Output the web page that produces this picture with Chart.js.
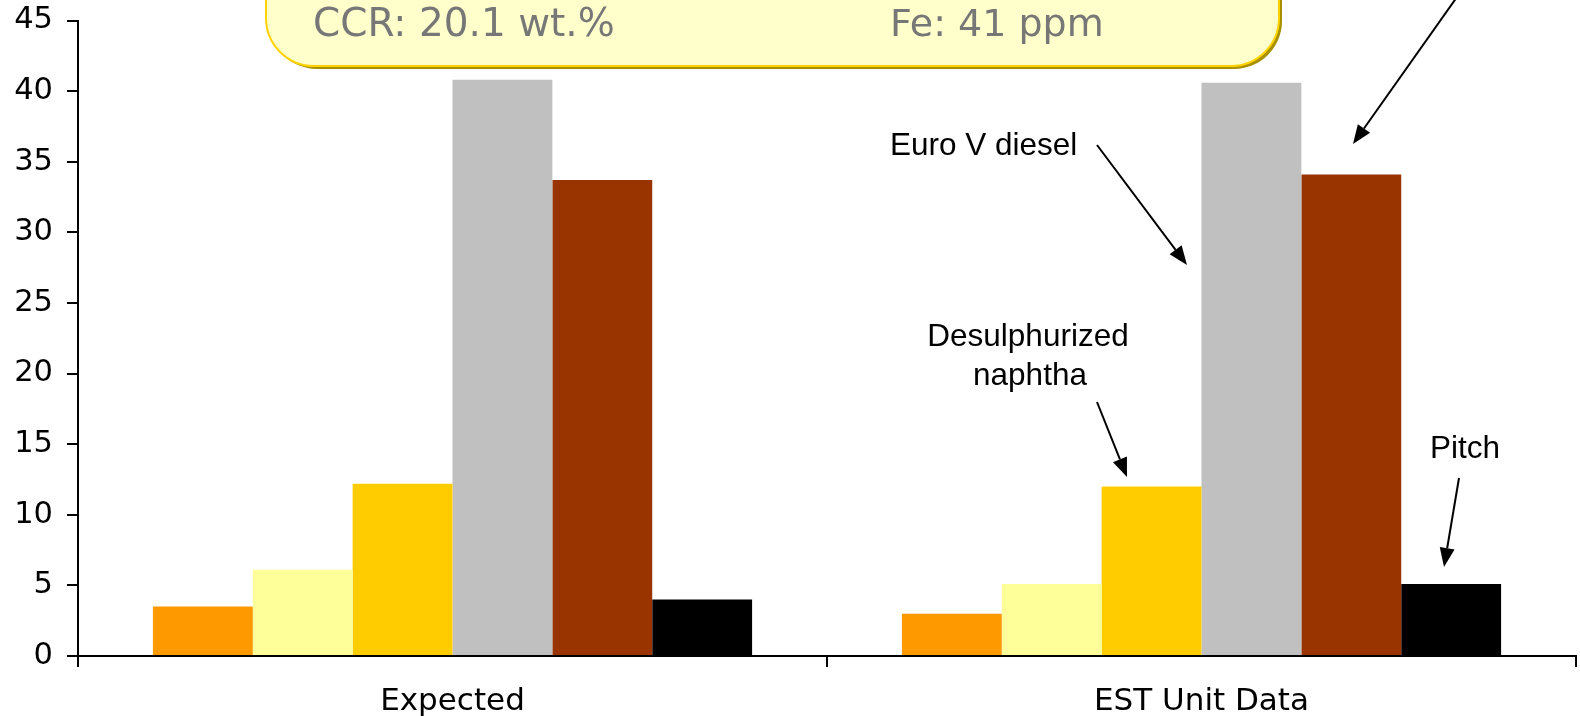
<!DOCTYPE html>
<html lang="en">
<head>
    <meta charset="UTF-8">
    <title>Product yields: Expected vs EST Unit Data</title>
    <script src="https://cdn.jsdelivr.net/npm/chart.js"></script>
    <style>
        html, body { margin: 0; padding: 0; background: #fff; }
        #wrap { width: 1580px; height: 716px; }
    </style>
</head>
<body>
    <div id="wrap"><canvas id="yieldChart" width="1580" height="716"></canvas></div>

    <script>
        // categories on the x axis
        const categories = ['Expected', 'EST Unit Data'];

        // one series per product
        const seriesNames = ['Gas', 'LPG', 'Desulphurized naphtha', 'Euro V diesel', 'VGO', 'Pitch'];
        const gasValues = [3.5, 3.0];
        const lpgValues = [6.1, 5.1];
        const naphthaValues = [12.2, 12.0];
        const dieselValues = [40.8, 40.6];
        const vgoValues = [33.7, 34.1];
        const pitchValues = [4.0, 5.1];
        const seriesColors = ['#FF9900', '#FFFF99', '#FFCC00', '#C0C0C0', '#993300', '#000000'];

        // y axis ticks
        const yMin = 0;
        const yMax = 45;
        const yStep = 5;

        // the feed box at the top
        const feedTexts = ['CCR: 20.1 wt.%', 'Fe: 41 ppm'];

        const allValues = [gasValues, lpgValues, naphthaValues, dieselValues, vgoValues, pitchValues];

        const datasets = allValues.map((vals, i) => ({
            label: seriesNames[i],
            data: vals,
            backgroundColor: seriesColors[i],
            borderWidth: 0,
            categoryPercentage: 0.8,
            barPercentage: 1.0
        }));

        function arrow(ctx, x1, y1, x2, y2) {
            const ang = Math.atan2(y2 - y1, x2 - x1);
            const len = 19, half = 7.5;
            const bx = x2 - len * Math.cos(ang);
            const by = y2 - len * Math.sin(ang);
            ctx.beginPath();
            ctx.moveTo(x1, y1);
            ctx.lineTo(bx, by);
            ctx.stroke();
            ctx.beginPath();
            ctx.moveTo(x2, y2);
            ctx.lineTo(bx + half * Math.sin(ang), by - half * Math.cos(ang));
            ctx.lineTo(bx - half * Math.sin(ang), by + half * Math.cos(ang));
            ctx.closePath();
            ctx.fill();
        }

        // callouts drawn on top of the chart
        const calloutPlugin = {
            id: 'callouts',
            afterDraw(chart) {
                const ctx = chart.ctx;
                ctx.save();

                // yellow rounded box, top part runs off the page
                ctx.beginPath();
                ctx.roundRect(269, -80, 1013, 149, 48);
                ctx.fillStyle = '#A89000';
                ctx.fill();
                ctx.beginPath();
                ctx.roundRect(266, -80, 1013, 146, 48);
                ctx.fillStyle = '#FFFFCC';
                ctx.fill();
                ctx.lineWidth = 2;
                ctx.strokeStyle = '#FFD200';
                ctx.stroke();

                ctx.fillStyle = '#777777';
                ctx.font = '39px "DejaVu Sans"';
                ctx.textAlign = 'left';
                ctx.textBaseline = 'alphabetic';
                ctx.fillText(feedTexts[0], 313, 36);
                ctx.font = '38px "DejaVu Sans"';
                ctx.fillText(feedTexts[1], 890, 36);

                // labels
                ctx.fillStyle = '#000';
                ctx.font = '31.5px "Liberation Sans", Arial, sans-serif';
                ctx.fillText('Euro V diesel', 890, 155);
                ctx.textAlign = 'center';
                ctx.fillText('Desulphurized', 1028, 346);
                ctx.fillText('naphtha', 1030, 385);
                ctx.fillText('Pitch', 1465, 458);

                // arrows
                ctx.strokeStyle = '#000';
                ctx.fillStyle = '#000';
                ctx.lineWidth = 2;
                arrow(ctx, 1097, 145, 1187, 265);
                arrow(ctx, 1097, 402, 1127, 477);
                arrow(ctx, 1459, 478, 1444, 567);
                arrow(ctx, 1469, -20, 1353, 144);

                ctx.restore();
            }
        };

        const ctx = document.getElementById('yieldChart').getContext('2d');
        new Chart(ctx, {
            type: 'bar',
            data: {
                labels: categories,
                datasets: datasets
            },
            plugins: [calloutPlugin],
            options: {
                responsive: false,
                animation: false,
                layout: {
                    padding: { top: 20.5, right: 4, bottom: 0, left: 0 }
                },
                plugins: {
                    legend: { display: false },
                    tooltip: { enabled: false }
                },
                scales: {
                    x: {
                        grid: {
                            offset: true,
                            drawOnChartArea: false,
                            color: '#000',
                            lineWidth: 2,
                            tickLength: 11
                        },
                        border: { display: true, color: '#000', width: 2 },
                        ticks: {
                            color: '#000',
                            padding: 16,
                            font: { family: 'DejaVu Sans', size: 31 }
                        },
                        afterFit(scale) {
                            scale.height = 60;
                            scale.paddingLeft = 0;
                            scale.paddingRight = 0;
                        }
                    },
                    y: {
                        min: yMin,
                        max: yMax,
                        grid: {
                            drawOnChartArea: false,
                            color: '#000',
                            lineWidth: 2,
                            tickLength: 11
                        },
                        border: { display: true, color: '#000', width: 2 },
                        ticks: {
                            stepSize: yStep,
                            color: '#000',
                            padding: 14,
                            font: { family: 'DejaVu Sans', size: 30.5 }
                        },
                        afterFit(scale) {
                            scale.width = 78;
                            scale.paddingTop = 0;
                            scale.paddingBottom = 0;
                        }
                    }
                }
            }
        });
    </script>
</body>
</html>
